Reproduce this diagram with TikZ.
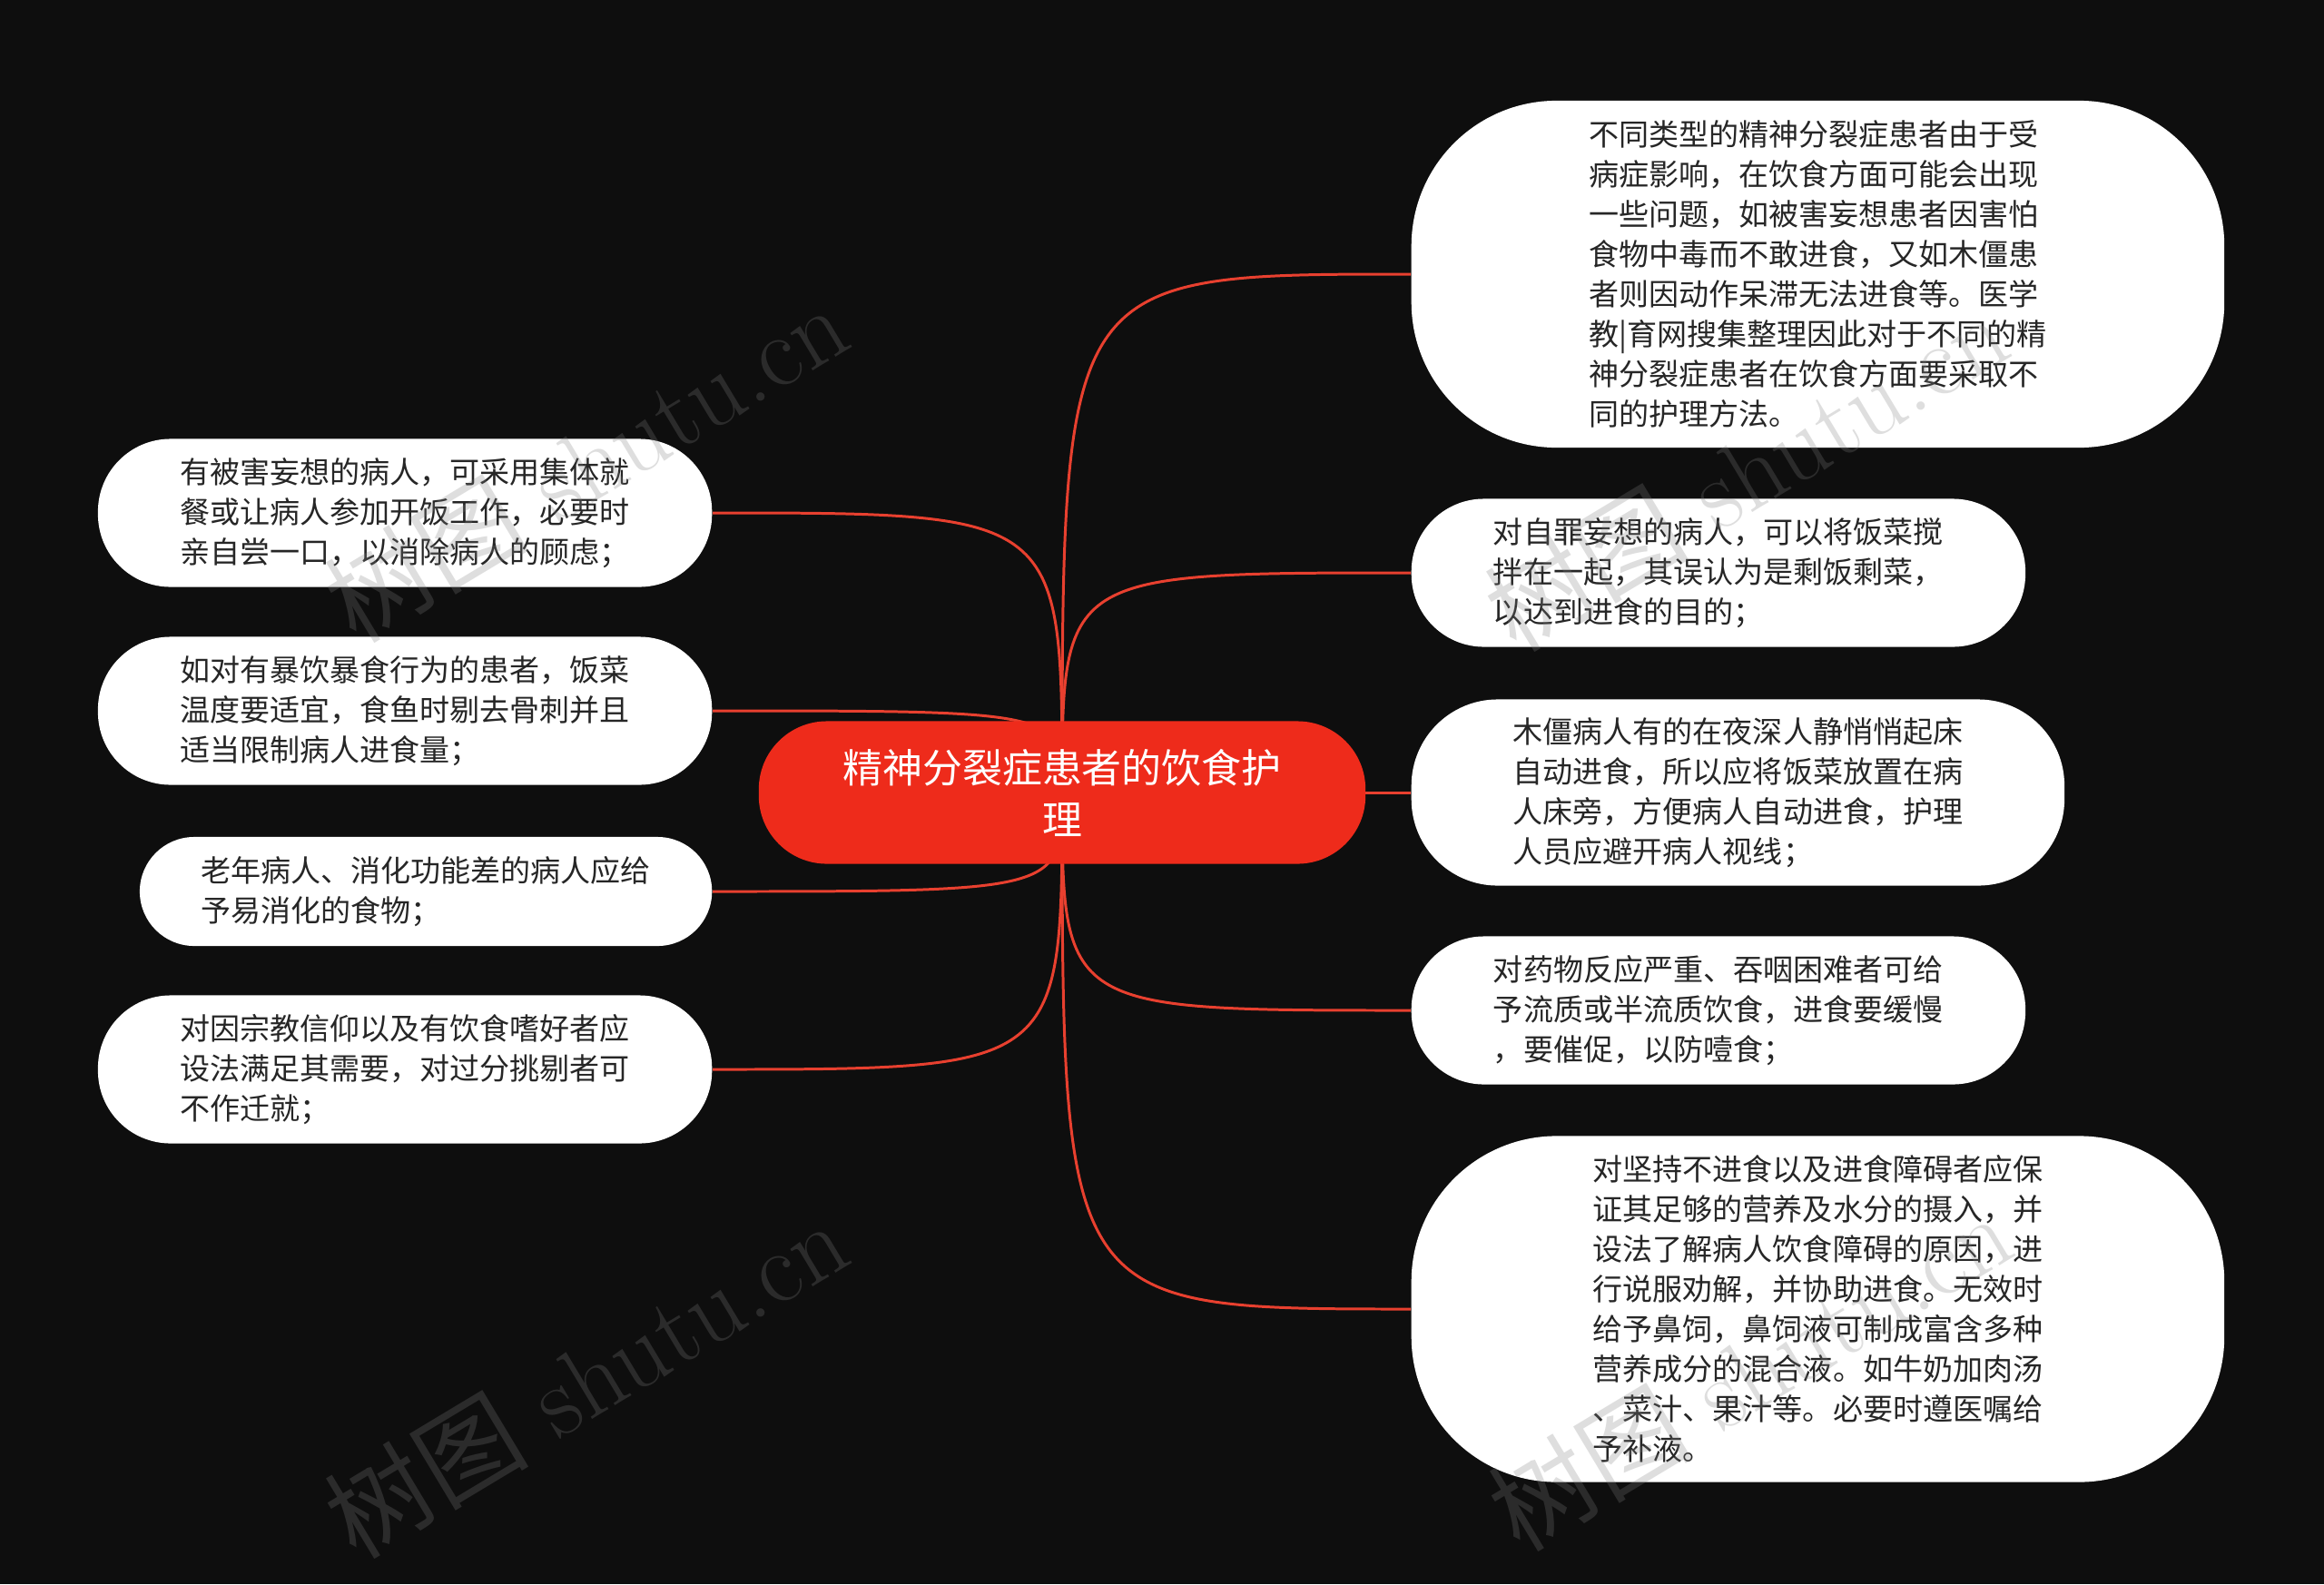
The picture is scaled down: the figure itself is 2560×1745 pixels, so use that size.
\documentclass[tikz,border=0pt]{standalone}
\usepackage{fontspec}
\newfontfamily\cjk{Noto Sans CJK SC}
\usetikzlibrary{positioning}
\definecolor{bg}{HTML}{0E0E0E}
\definecolor{mapred}{HTML}{EE2B1B}
\definecolor{linkred}{HTML}{E8402F}
\pgfdeclarelayer{background}
\pgfsetlayers{background,main}

\begin{document}
\begin{tikzpicture}[x=0.01cm, y=-0.01cm,
    root/.style={fill=mapred, text=white, rounded corners=0.75cm,
                 minimum width=6.68cm, minimum height=1.57cm, align=center,
                 font=\cjk\fontsize{12.5pt}{16.2pt}\selectfont},
    leaf/.style={fill=white, text=black!85, rounded corners=0.8cm,
                 minimum width=6.76cm, minimum height=1.63cm, inner sep=0pt,
                 align=left, font=\cjk\fontsize{9.4pt}{12.5pt}\selectfont},
    bigleaf/.style={leaf, rounded corners=1.6cm, minimum width=8.95cm, minimum height=3.82cm},
    link/.style={draw=linkred, line width=0.85pt},
    watermark/.style={text=gray, opacity=0.26, rotate=31,
                      font=\fontsize{32pt}{34pt}\selectfont}]
    % Mitte
    \node[root] (c) at (1170,873) {精神分裂症患者的饮食护\\理};

    % rechts
    \node[bigleaf, anchor=west] (r1) at (1554,302)
        {不同类型的精神分裂症患者由于受\\病症影响，在饮食方面可能会出现\\一些问题，如被害妄想患者因害怕\\食物中毒而不敢进食，又如木僵患\\者则因动作呆滞无法进食等。医学\\教|育网搜集整理因此对于不同的精\\神分裂症患者在饮食方面要采取不\\同的护理方法。};
    \node[leaf, anchor=west] (r2) at (1554,631)
        {对自罪妄想的病人，可以将饭菜搅\\拌在一起，其误认为是剩饭剩菜，\\以达到进食的目的；};
    \node[leaf, anchor=west, rounded corners=0.95cm,
          minimum width=7.19cm, minimum height=2.05cm] (r3) at (1554,873)
        {木僵病人有的在夜深人静悄悄起床\\自动进食，所以应将饭菜放置在病\\人床旁，方便病人自动进食，护理\\人员应避开病人视线；};
    \node[leaf, anchor=west] (r4) at (1554,1113)
        {对药物反应严重、吞咽困难者可给\\予流质或半流质饮食，进食要缓慢\\，要催促，以防噎食；};
    \node[bigleaf, anchor=west, minimum height=3.81cm] (r5) at (1554,1442)
        {对坚持不进食以及进食障碍者应保\\证其足够的营养及水分的摄入，并\\设法了解病人饮食障碍的原因，进\\行说服劝解，并协助进食。无效时\\给予鼻饲，鼻饲液可制成富含多种\\营养成分的混合液。如牛奶加肉汤\\、菜汁、果汁等。必要时遵医嘱给\\予补液。};

    % links
    \node[leaf, anchor=east] (l1) at (785,565)
        {有被害妄想的病人，可采用集体就\\餐或让病人参加开饭工作，必要时\\亲自尝一口，以消除病人的顾虑；};
    \node[leaf, anchor=east] (l2) at (785,783)
        {如对有暴饮暴食行为的患者，饭菜\\温度要适宜，食鱼时剔去骨刺并且\\适当限制病人进食量；};
    \node[leaf, anchor=east, rounded corners=0.6cm,
          minimum width=6.3cm, minimum height=1.2cm] (l3) at (785,982)
        {老年病人、消化功能差的病人应给\\予易消化的食物；};
    \node[leaf, anchor=east] (l4) at (785,1178)
        {对因宗教信仰以及有饮食嗜好者应\\设法满足其需要，对过分挑剔者可\\不作迁就；};

    % Verbindungen
    \begin{pgfonlayer}{background}
    \fill[bg] (0,0) rectangle (2560,1745);
    \draw[link] (c.center) .. controls (c.center |- r1.west) .. (r1.west);
    \draw[link] (c.center) .. controls (c.center |- r2.west) .. (r2.west);
    \draw[link] (c.center) -- (r3.west);
    \draw[link] (c.center) .. controls (c.center |- r4.west) .. (r4.west);
    \draw[link] (c.center) .. controls (c.center |- r5.west) .. (r5.west);
    \draw[link] (c.center) .. controls (c.center |- l1.east) .. (l1.east);
    \draw[link] (c.center) .. controls (c.center |- l2.east) .. (l2.east);
    \draw[link] (c.center) .. controls (c.center |- l3.east) .. (l3.east);
    \draw[link] (c.center) .. controls (c.center |- l4.east) .. (l4.east);
    \end{pgfonlayer}

    % Wasserzeichen
    \node[watermark] (wm1) at (645,509) {{\cjk 树图} shutu.cn};
    \node[watermark] (wm2) at (645,1518) {{\cjk 树图} shutu.cn};
    \node[watermark] (wm3) at (1923,519) {{\cjk 树图} shutu.cn};
    \node[watermark] (wm4) at (1927,1510) {{\cjk 树图} shutu.cn};
\end{tikzpicture}
\end{document}
